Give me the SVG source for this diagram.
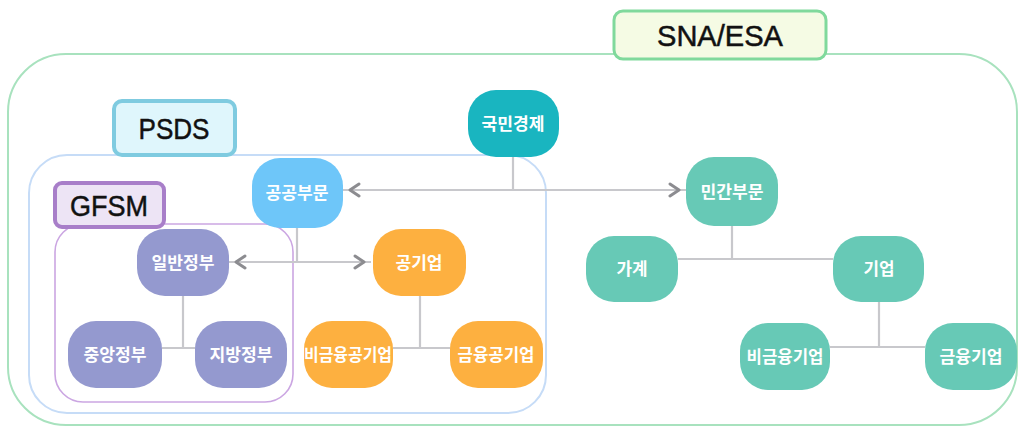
<svg xmlns="http://www.w3.org/2000/svg" width="1019" height="427" viewBox="0 0 1019 427">
<defs>
<style>
.lbl{font-family:"Liberation Sans",Arial,sans-serif;font-size:30px;fill:#111;stroke:#111;stroke-width:0.5;text-anchor:middle}
.nt{font-family:"Noto Sans CJK KR","Noto Sans",sans-serif;font-size:17.5px;font-weight:bold;fill:#fff;text-anchor:middle}
.conn{fill:none;stroke:#c8c8cc;stroke-width:2.2}
.arr{fill:none;stroke:#c8c8cc;stroke-width:2.2;marker-start:url(#chev);marker-end:url(#chev)}
.teal{fill:#19b5c0}
.blue{fill:#6ec6f9}
.purple{fill:#9499cf}
.orange{fill:#fdb040}
.green{fill:#67c9b6}
</style>
<marker id="chev" viewBox="-20 -8 22 16" refX="0" refY="0" markerWidth="22" markerHeight="16" markerUnits="userSpaceOnUse" orient="auto-start-reverse">
<path d="M-16,-6 L-7,0 L-16,6" fill="none" stroke="#8c8c90" stroke-width="3" stroke-linecap="round" stroke-linejoin="round"/>
</marker>
</defs>
<rect width="1019" height="427" fill="#fff"/>

<g id="containers">
<rect x="8" y="54" width="1009" height="371" rx="58" fill="none" stroke="#a8e2be" stroke-width="2"/>
<rect x="29" y="155" width="517" height="258" rx="38" fill="none" stroke="#c6dcf7" stroke-width="2"/>
<rect x="55" y="224" width="238" height="178" rx="28" fill="none" stroke="#cba6e2" stroke-width="1.6"/>
</g>

<g id="label-sna">
<rect x="614" y="11" width="212" height="48" rx="9" fill="#f5fbe4" stroke="#80d99c" stroke-width="3"/>
<text class="lbl" x="720" y="46" textLength="126" lengthAdjust="spacingAndGlyphs">SNA/ESA</text>
</g>
<g id="label-psds">
<rect x="114" y="101" width="121" height="54" rx="8" fill="#dff6fc" stroke="#7fcbe0" stroke-width="4"/>
<text class="lbl" x="174" y="139" textLength="71" lengthAdjust="spacingAndGlyphs">PSDS</text>
</g>
<g id="label-gfsm">
<rect x="55" y="183" width="109" height="44" rx="7" fill="#ede4f5" stroke="#a87ec9" stroke-width="4"/>
<text class="lbl" x="109" y="216" textLength="78" lengthAdjust="spacingAndGlyphs">GFSM</text>
</g>

<g id="connectors">
<path class="conn" d="M513,156 V190"/>
<path class="arr" d="M343,190 H686"/>
<path class="conn" d="M297,228 V262"/>
<path class="arr" d="M229,262 H371"/>
<path class="conn" d="M183,296 V348 M162,348 H195"/>
<path class="conn" d="M420,296 V348 M393,348 H450"/>
<path class="conn" d="M732,226 V259 M678,259 H833"/>
<path class="conn" d="M879,302 V347 M830,347 H925"/>
</g>

<g id="n-gukmin"><rect class="teal" x="468" y="90" width="91" height="67" rx="28"/><text class="nt" x="513" y="130" textLength="63" lengthAdjust="spacingAndGlyphs">국민경제</text></g>
<g id="n-gonggong"><rect class="blue" x="252" y="158" width="91" height="70" rx="28"/><text class="nt" x="297" y="199" textLength="63" lengthAdjust="spacingAndGlyphs">공공부문</text></g>
<g id="n-mingan"><rect class="green" x="686" y="157" width="92" height="69" rx="28"/><text class="nt" x="732" y="198" textLength="63" lengthAdjust="spacingAndGlyphs">민간부문</text></g>
<g id="n-ilban"><rect class="purple" x="137" y="229" width="92" height="67" rx="28"/><text class="nt" x="183" y="269" textLength="63" lengthAdjust="spacingAndGlyphs">일반정부</text></g>
<g id="n-gonggiup"><rect class="orange" x="373" y="229" width="93" height="67" rx="28"/><text class="nt" x="419" y="269" textLength="47" lengthAdjust="spacingAndGlyphs">공기업</text></g>
<g id="n-jungang"><rect class="purple" x="68" y="321" width="94" height="67" rx="28"/><text class="nt" x="115" y="361" textLength="63" lengthAdjust="spacingAndGlyphs">중앙정부</text></g>
<g id="n-jibang"><rect class="purple" x="195" y="321" width="92" height="67" rx="28"/><text class="nt" x="241" y="361" textLength="63" lengthAdjust="spacingAndGlyphs">지방정부</text></g>
<g id="n-bigeumyung-gong"><rect class="orange" x="304" y="321" width="89" height="67" rx="28"/><text class="nt" x="348" y="361" textLength="88" lengthAdjust="spacingAndGlyphs">비금융공기업</text></g>
<g id="n-geumyung-gong"><rect class="orange" x="450" y="321" width="93" height="67" rx="28"/><text class="nt" x="496" y="361" textLength="77" lengthAdjust="spacingAndGlyphs">금융공기업</text></g>
<g id="n-gagye"><rect class="green" x="586" y="236" width="92" height="66" rx="28"/><text class="nt" x="632" y="275" textLength="31" lengthAdjust="spacingAndGlyphs">가계</text></g>
<g id="n-giup"><rect class="green" x="833" y="236" width="91" height="66" rx="28"/><text class="nt" x="879" y="275" textLength="31" lengthAdjust="spacingAndGlyphs">기업</text></g>
<g id="n-bigeumyung"><rect class="green" x="740" y="323" width="90" height="67" rx="28"/><text class="nt" x="785" y="363" textLength="77" lengthAdjust="spacingAndGlyphs">비금융기업</text></g>
<g id="n-geumyung"><rect class="green" x="925" y="323" width="92" height="67" rx="28"/><text class="nt" x="971" y="363" textLength="63" lengthAdjust="spacingAndGlyphs">금융기업</text></g>
</svg>
